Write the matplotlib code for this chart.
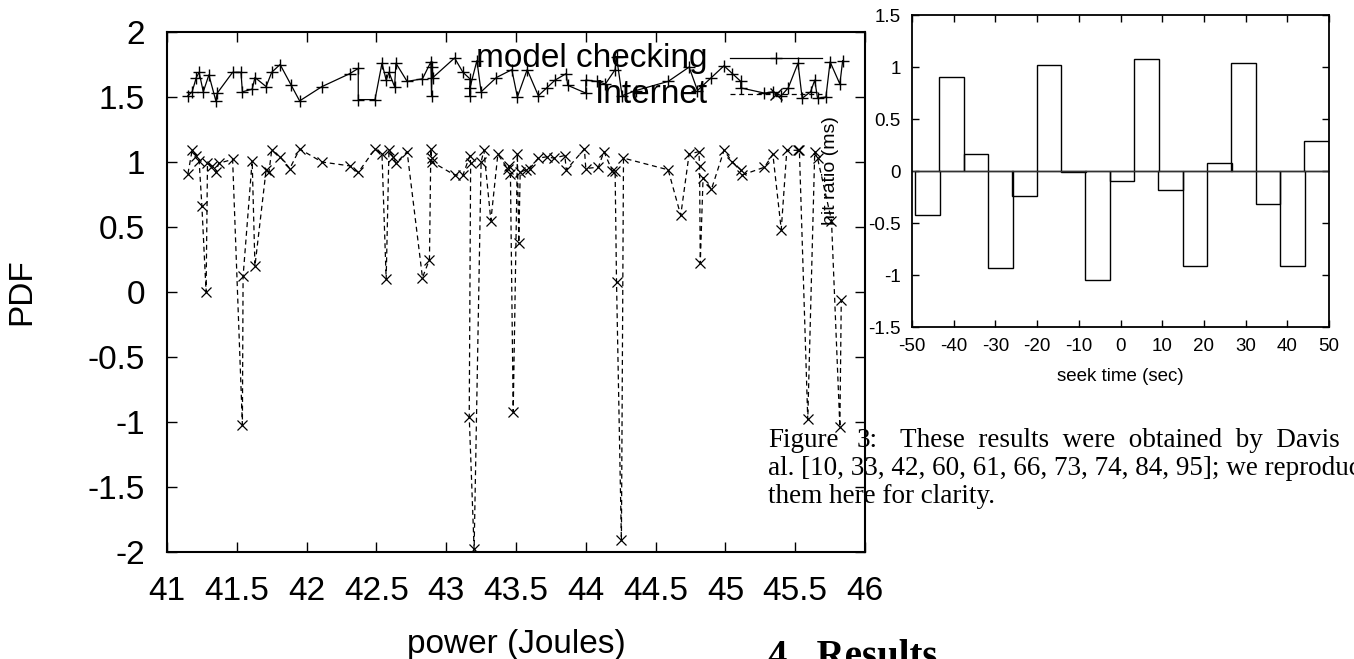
import matplotlib
matplotlib.use("Agg")
import matplotlib.pyplot as plt
from matplotlib.lines import Line2D
from matplotlib.ticker import FormatStrFormatter, MultipleLocator

plt.rcParams['font.family'] = ['Liberation Sans', 'DejaVu Sans']
plt.rcParams['axes.unicode_minus'] = False

# main chart: power (Joules) vs PDF
mc_x = [41.15, 41.18, 41.21, 41.23, 41.26, 41.30, 41.35, 41.36, 41.47, 41.53,
        41.54, 41.61, 41.63, 41.71, 41.75, 41.81, 41.89, 41.95, 42.11, 42.31,
        42.37, 42.37, 42.49, 42.54, 42.57, 42.59, 42.63, 42.64, 42.72, 42.83,
        42.89, 42.895, 42.90, 42.905, 43.06, 43.12, 43.17, 43.17, 43.17, 43.22,
        43.25, 43.36, 43.47, 43.51, 43.58, 43.66, 43.72, 43.78, 43.86, 43.87,
        44.00, 44.00, 44.08, 44.14, 44.21, 44.22, 44.26, 44.36, 44.59, 44.74,
        44.80, 44.90, 44.99, 45.05, 45.11, 45.11, 45.28, 45.34, 45.40, 45.45,
        45.52, 45.55, 45.61, 45.64, 45.66, 45.72, 45.75, 45.82, 45.84]
mc_y = [1.51, 1.54, 1.65, 1.69, 1.54, 1.67, 1.47, 1.53, 1.69, 1.69,
        1.54, 1.56, 1.65, 1.58, 1.69, 1.75, 1.59, 1.47, 1.58, 1.68,
        1.72, 1.48, 1.48, 1.76, 1.63, 1.69, 1.58, 1.76, 1.62, 1.64,
        1.77, 1.51, 1.73, 1.65, 1.80, 1.69, 1.64, 1.51, 1.57, 1.78,
        1.54, 1.65, 1.71, 1.50, 1.71, 1.51, 1.57, 1.63, 1.68, 1.59,
        1.53, 1.63, 1.62, 1.60, 1.71, 1.81, 1.51, 1.55, 1.62, 1.73,
        1.55, 1.65, 1.74, 1.68, 1.62, 1.57, 1.53, 1.54, 1.51, 1.57,
        1.76, 1.49, 1.54, 1.63, 1.49, 1.50, 1.77, 1.60, 1.78]

net_x = [41.15, 41.18, 41.21, 41.23, 41.25, 41.28, 41.29, 41.32, 41.35, 41.37,
         41.47, 41.54, 41.545, 41.61, 41.63, 41.71, 41.73, 41.75, 41.81, 41.88,
         41.95, 42.11, 42.31, 42.37, 42.49, 42.54, 42.57, 42.59, 42.62, 42.64,
         42.72, 42.83, 42.88, 42.89, 42.895, 42.90, 43.06, 43.12, 43.17, 43.175,
         43.165, 43.20, 43.25, 43.27, 43.32, 43.37, 43.44, 43.45, 43.46, 43.48,
         43.51, 43.52, 43.53, 43.57, 43.60, 43.66, 43.72, 43.77, 43.85, 43.86,
         43.99, 44.00, 44.09, 44.13, 44.19, 44.21, 44.22, 44.255, 44.27, 44.59,
         44.68, 44.74, 44.81, 44.815, 44.82, 44.84, 44.90, 44.99, 45.05, 45.11,
         45.12, 45.28, 45.34, 45.40, 45.44, 45.52, 45.53, 45.59, 45.64, 45.66,
         45.76, 45.82, 45.83]
net_y = [0.91, 1.09, 1.05, 1.01, 0.66, 0.00, 0.99, 0.97, 0.92, 0.99,
         1.02, -1.02, 0.12, 1.01, 0.20, 0.94, 0.92, 1.09, 1.04, 0.95,
         1.10, 1.00, 0.97, 0.92, 1.10, 1.06, 0.10, 1.09, 1.04, 0.99,
         1.08, 0.11, 0.25, 1.10, 1.03, 1.00, 0.90, 0.90, 1.05, 0.99,
         -0.96, -1.98, 1.00, 1.09, 0.55, 1.06, 0.95, 0.97, 0.91, -0.92,
         1.06, 0.38, 0.92, 0.94, 0.95, 1.03, 1.04, 1.03, 1.05, 0.94,
         1.10, 0.95, 0.96, 1.08, 0.93, 0.93, 0.08, -1.91, 1.03, 0.94,
         0.59, 1.06, 1.08, 0.97, 0.22, 0.88, 0.79, 1.09, 1.00, 0.94,
         0.90, 0.96, 1.06, 0.48, 1.09, 1.09, 1.09, -0.98, 1.08, 1.03,
         0.55, -1.04, -0.06]

# inset: seek time (sec) vs hit ratio (ms)
seek = [-46.3, -40.5, -34.6, -28.8, -23.0, -17.2, -11.3, -5.5, 0.3, 6.2,
        12.0, 17.8, 23.7, 29.5, 35.3, 41.2, 47.0]
hit = [-0.42, 0.90, 0.16, -0.93, -0.24, 1.02, -0.01, -1.05, -0.10, 1.08,
       -0.18, -0.91, 0.08, 1.04, -0.32, -0.91, 0.29]

caption = ["These  results  were  obtained  by  Davis",
           "al. [10, 33, 42, 60, 61, 66, 73, 74, 84, 95]; we reproduce",
           "them here for clarity."]

fig = plt.figure(figsize=(13.54, 6.59), dpi=100)

ax = fig.add_axes([167/1354, 1-552/659, 698/1354, 520/659])
ax.plot(mc_x, mc_y, color='black', lw=0.9, marker='+', ms=9, mew=1)
ax.plot(net_x, net_y, color='black', lw=0.9, ls=(0, (4, 3)), marker='x', ms=7, mew=0.9)
ax.set_xlim(41, 46)
ax.set_ylim(-2, 2)
ax.xaxis.set_major_locator(MultipleLocator(0.5))
ax.yaxis.set_major_locator(MultipleLocator(0.5))
ax.xaxis.set_major_formatter(FormatStrFormatter('%g'))
ax.yaxis.set_major_formatter(FormatStrFormatter('%g'))
ax.tick_params(direction='in', length=7, width=1, labelsize=24, top=True, right=True)
ax.tick_params(axis='x', pad=17)
ax.tick_params(axis='y', pad=16)
for s in ax.spines.values():
    s.set_linewidth(1.5)
ax.set_xlabel("power (Joules)", fontsize=24, labelpad=16)
ax.set_ylabel("PDF", fontsize=24, labelpad=36)

# legend drawn gnuplot style: text right-aligned, sample line on the right
for lab, yy, ls, mk in [("model checking", 0.950, '-', '+'),
                        ("Internet", 0.880, (0, (4, 3)), 'x')]:
    ax.text(0.775, yy, lab, transform=ax.transAxes, ha='right', va='center', fontsize=24)
    ax.add_line(Line2D([0.8066, 0.8725, 0.9384], [yy, yy, yy], transform=ax.transAxes,
                       color='black', lw=0.9, ls=ls, marker=mk, markevery=[1], ms=9))

ax2 = fig.add_axes([912/1354, 1-327/659, 417/1354, 312/659])
ax2.bar(seek, hit, width=5.85, facecolor='none', edgecolor='black', lw=1)
ax2.axhline(0, color='#333333', lw=1)
ax2.set_xlim(-50, 50)
ax2.set_ylim(-1.5, 1.5)
ax2.xaxis.set_major_locator(MultipleLocator(10))
ax2.yaxis.set_major_locator(MultipleLocator(0.5))
ax2.yaxis.set_major_formatter(FormatStrFormatter('%g'))
ax2.tick_params(direction='in', length=5, width=1, labelsize=13.5, top=True, right=True, pad=8)
for s in ax2.spines.values():
    s.set_linewidth(1.3)
ax2.set_xlabel("seek time (sec)", fontsize=13.5, labelpad=9)
ax2.set_ylabel("hit ratio (ms)", fontsize=14)
ax2.yaxis.set_label_coords(-0.175, 0.5)

# caption block, set like justified paper text
serif = ['Liberation Serif', 'DejaVu Serif']
fig.text(768/1354, 1-447/659, "Figure", family=serif, fontsize=19.5, va='baseline')
fig.text(857/1354, 1-447/659, "3:", family=serif, fontsize=19.5, va='baseline')
fig.text(900/1354, 1-447/659, caption[0], family=serif, fontsize=19.5, va='baseline')
for i, line in enumerate(caption[1:], start=1):
    fig.text(768/1354, 1-(447+28*i)/659, line, family=serif, fontsize=19.5, va='baseline')
fig.text(768/1354, 1-639/659, "4   Results", family=serif, fontsize=28, weight='bold', va='top')

fig.savefig("out.png", dpi=100)
